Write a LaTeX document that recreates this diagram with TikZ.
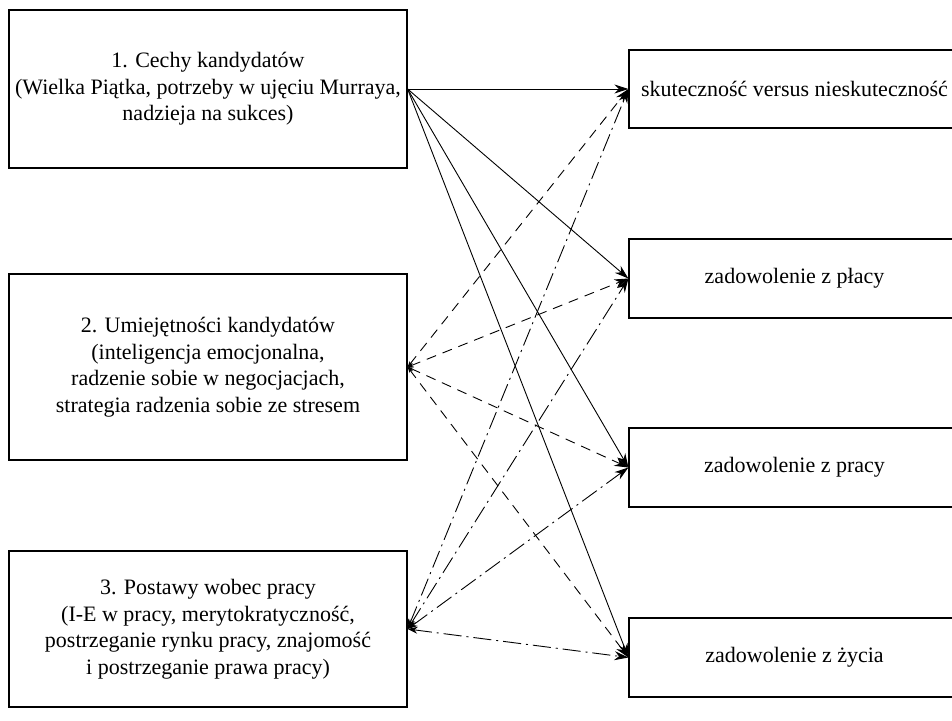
\documentclass[tikz,border=0pt]{standalone}
\usepackage{fontspec}
\setmainfont{Liberation Serif}
\usetikzlibrary{arrows.meta}
\begin{document}
\begin{tikzpicture}[x=1pt,y=-1pt,
  every node/.style={font=\fontsize{22}{26.5}\selectfont},
  cause/.style={draw, line width=1.2pt, align=center, minimum width=398pt, inner sep=0pt},
  effect/.style={draw, line width=1.2pt, align=center, minimum width=331pt, minimum height=79pt, inner sep=0pt},
  link/.style={line width=0.9pt},
  solidlink/.style={link, -{Stealth[length=14pt,width=9pt]}},
  dashlink/.style={link, dash pattern=on 10pt off 7pt,
    {Stealth[length=6pt,width=4pt]}-{Stealth[length=14pt,width=9pt]}},
  dotlink/.style={link, dash pattern=on 18pt off 5pt on 2pt off 5pt,
    {Stealth[length=10pt,width=7pt]}-{Stealth[length=14pt,width=9pt]}}
]
\clip (0,0) rectangle (952,720);
\fill[white] (0,0) rectangle (952,720);

% predictors
\node[cause, minimum height=158pt] (c1) at (208,89)
  {1. Cechy kandydatów\\(Wielka Piątka, potrzeby w ujęciu Murraya,\\nadzieja na sukces)};
\node[cause, minimum height=186pt] (c2) at (208,367)
  {2. Umiejętności kandydatów\\(inteligencja emocjonalna,\\radzenie sobie w negocjacjach,\\strategia radzenia sobie ze stresem};
\node[cause, minimum height=156pt] (c3) at (208,629)
  {3. Postawy wobec pracy\\(I-E w pracy, merytokratyczność,\\postrzeganie rynku pracy, znajomość\\i postrzeganie prawa pracy)};

% outcomes
\node[effect, minimum height=78pt] (e1) at (794.5,89) {skuteczność versus nieskuteczność};
\node[effect] (e2) at (794.5,278.5) {zadowolenie z płacy};
\node[effect] (e3) at (794.5,467.5) {zadowolenie z pracy};
\node[effect] (e4) at (794.5,657.5) {zadowolenie z życia};

% links from each predictor to every outcome
\foreach \e in {e1,e2,e3,e4} {
  \draw[solidlink] (c1.east) -- (\e.west);
  \draw[dashlink] (c2.east) -- (\e.west);
  \draw[dotlink] (c3.east) -- (\e.west);
}
\end{tikzpicture}
\end{document}
